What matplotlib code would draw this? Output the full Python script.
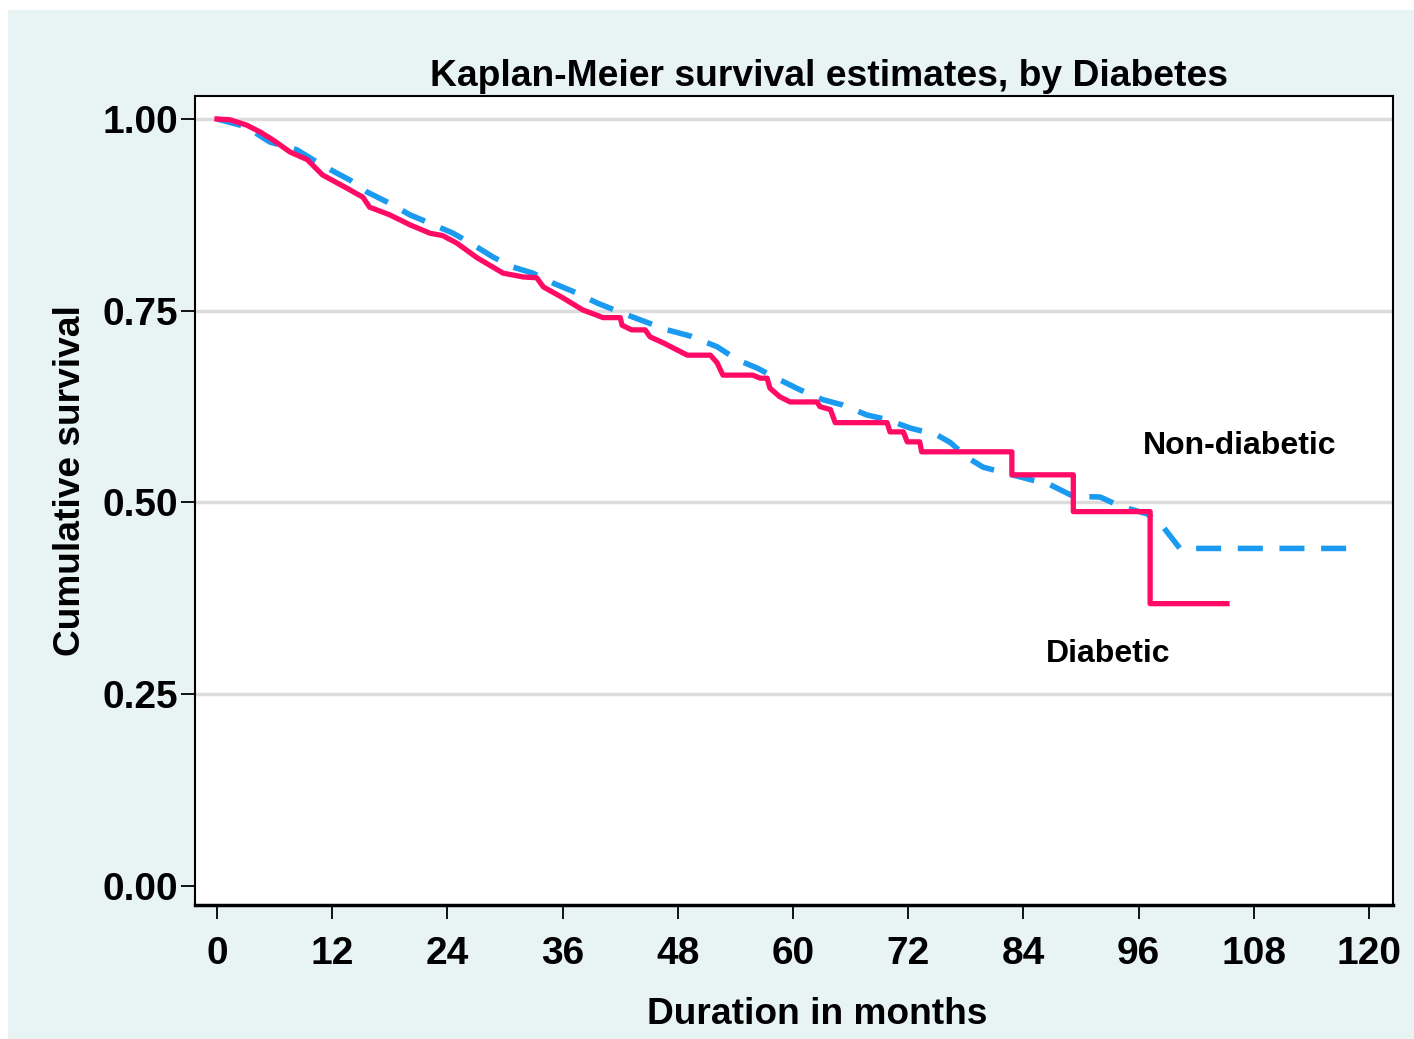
import matplotlib.pyplot as plt
from matplotlib.patches import Rectangle

plt.rcParams['font.family'] = ['Liberation Sans', 'DejaVu Sans']
plt.rcParams['font.weight'] = 'bold'

# Kaplan-Meier curves (months, survival)
t_diab = [0, 1.35, 3.1, 4.5, 5.8, 7.6, 9.4, 11.0, 13.5, 15.2, 15.9, 18.0, 20.1, 22.2, 23.5,
          25.0, 27.1, 29.8, 31.9, 33.3, 34.0, 36.0, 38.1, 39.6, 40.2, 42.0, 42.2, 43.2, 44.6,
          45.1, 46.5, 47.9, 49.0, 51.4, 52.1, 52.7, 55.8, 56.6, 57.3, 57.6, 58.6, 59.7, 62.5,
          62.8, 63.9, 64.4, 69.8, 70.1, 71.5, 71.9, 73.2, 73.4, 82.8, 82.8, 89.2, 89.2, 97.2,
          97.2, 105.2]
s_diab = [1.0, 0.999, 0.992, 0.983, 0.973, 0.957, 0.947, 0.927, 0.910, 0.898, 0.885, 0.875,
          0.862, 0.851, 0.848, 0.838, 0.819, 0.799, 0.794, 0.793, 0.781, 0.767, 0.751, 0.744,
          0.741, 0.741, 0.731, 0.725, 0.725, 0.716, 0.708, 0.699, 0.692, 0.692, 0.682, 0.666,
          0.666, 0.662, 0.662, 0.649, 0.638, 0.631, 0.631, 0.625, 0.621, 0.604, 0.604, 0.592,
          0.592, 0.579, 0.579, 0.566, 0.566, 0.536, 0.536, 0.488, 0.488, 0.368, 0.368]

t_nondiab = [0, 3.0, 5.5, 8.3, 10.0, 11.8, 13.9, 15.6, 18.0, 20.1, 22.2, 24.6, 26.7, 28.75,
             30.8, 32.9, 35.0, 37.5, 39.6, 42.0, 44.1, 46.9, 49.3, 52.1, 54.2, 56.3, 58.6,
             60.7, 63.1, 65.2, 67.7, 69.8, 72.2, 75.0, 76.4, 78.1, 79.8, 81.6, 86.8, 89.2,
             92.0, 94.1, 96.9, 98.5, 100.3, 119.1]
s_nondiab = [1.0, 0.99, 0.970, 0.960, 0.947, 0.934, 0.920, 0.905, 0.890, 0.875, 0.864, 0.851,
             0.836, 0.820, 0.807, 0.799, 0.786, 0.773, 0.760, 0.748, 0.738, 0.725, 0.717,
             0.703, 0.686, 0.675, 0.660, 0.647, 0.634, 0.627, 0.614, 0.608, 0.597, 0.588,
             0.578, 0.559, 0.546, 0.540, 0.523, 0.508, 0.507, 0.495, 0.485, 0.469, 0.440, 0.440]

x_ticks = [0, 12, 24, 36, 48, 60, 72, 84, 96, 108, 120]
y_ticks = [0.00, 0.25, 0.50, 0.75, 1.00]

fig = plt.figure(figsize=(14.14, 10.39), dpi=100)
fig.patch.set_facecolor('white')
# light panel behind the plot
panel = Rectangle((8 / 1414, 0), 1 - 8 / 1414, 1 - 10 / 1039,
                  transform=fig.transFigure, facecolor='#e8f4f4', edgecolor='none')
panel.set_zorder(-10)
fig.add_artist(panel)

ax = fig.add_axes([195 / 1414, 134 / 1039, 1198 / 1414, 809 / 1039])
ax.set_zorder(5)
ax.set_facecolor('white')

for y in [0.25, 0.50, 0.75, 1.00]:
    ax.axhline(y, color='#dcdcdc', lw=2.5, zorder=1)

ax.plot(t_nondiab, s_nondiab, color='#1a9af0', lw=4, ls=(0, (4.5, 3)), zorder=3)
ax.plot(t_diab, s_diab, color='#ff0a64', lw=3.8, zorder=4)

ax.set_xlim(-2.29, 122.5)
ax.set_ylim(-0.025, 1.03)
ax.set_xticks(x_ticks)
ax.set_yticks(y_ticks)
ax.set_yticklabels(['%.2f' % v for v in y_ticks])
ax.tick_params(axis='both', direction='out', length=10, width=1.3, labelsize=28, color='black')
ax.tick_params(axis='x', pad=12)
ax.tick_params(axis='y', pad=2)
for lab in ax.get_xticklabels() + ax.get_yticklabels():
    lab.set_fontweight('bold')

for side in ['left', 'right', 'top']:
    ax.spines[side].set_linewidth(1.5)
ax.spines['bottom'].set_linewidth(2.5)

ax.text(0.519, -0.147, 'Duration in months', transform=ax.transAxes,
        ha='center', va='baseline', fontsize=26.7, fontweight='bold')
ax.text(-0.096, 0.525, 'Cumulative survival', transform=ax.transAxes, rotation=90,
        rotation_mode='anchor', ha='center', va='baseline', fontsize=26.7, fontweight='bold')
ax.text(0.529, 1.0124, 'Kaplan-Meier survival estimates, by Diabetes', transform=ax.transAxes,
        ha='center', va='baseline', fontsize=26.8, fontweight='bold')

ax.text(106.5, 0.574, 'Non-diabetic', ha='center', va='center', fontsize=23, fontweight='bold')
ax.text(92.8, 0.302, 'Diabetic', ha='center', va='center', fontsize=23, fontweight='bold')

fig.savefig('out.png', dpi=100)
